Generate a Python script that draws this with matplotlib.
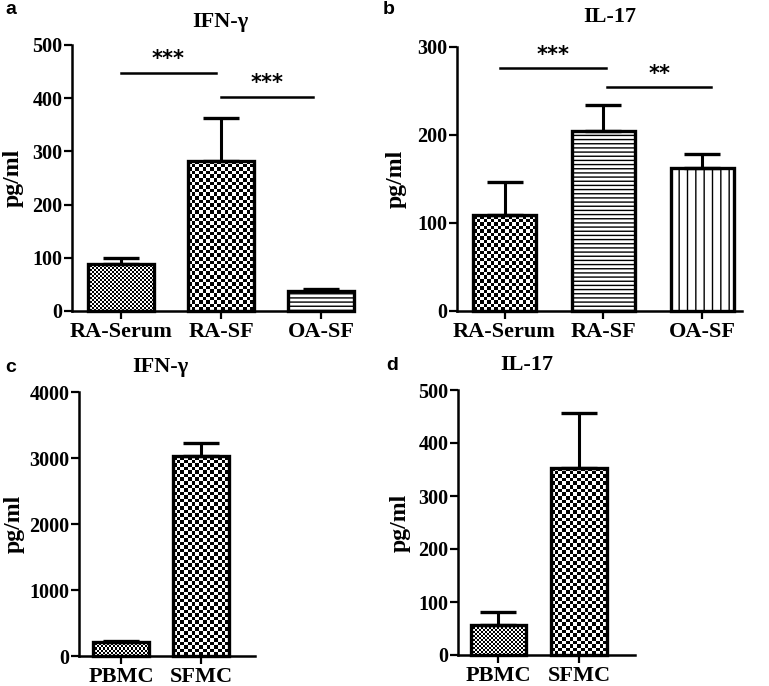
import numpy as np
import matplotlib
matplotlib.use("Agg")
import matplotlib.pyplot as plt

plt.rcParams['font.family'] = ['Liberation Serif', 'DejaVu Serif']
plt.rcParams['font.weight'] = 'bold'
plt.rcParams['hatch.linewidth'] = 1.0
plt.rcParams['hatch.color'] = 'black'

W, H = 769, 686

# panel a: IFN-gamma, b: IL-17 (serum / synovial fluid)
groups_ab = ["RA-Serum", "RA-SF", "OA-SF"]
ifn_a = [89, 282, 37]
ifn_a_err = [100, 362, 41]
il17_b = [109, 204, 163]
il17_b_err = [147, 234, 178]

# panel c, d: cell culture
groups_cd = ["PBMC", "SFMC"]
ifn_c = [215, 3030]
ifn_c_err = [230, 3230]
il17_d = [56, 353]
il17_d_err = [82, 456]

# significance bars: (from, to, y, label)
sig_a = [(0.0, 0.95, 448, "***"), (1.0, 1.92, 403, "***")]
sig_b = [(-0.05, 1.03, 276, "***"), (1.04, 2.09, 254, "**")]


def px_axes(fig, x0, x1, ytop, ybot):
    return fig.add_axes([x0 / W, (H - ybot) / H, (x1 - x0) / W, (ybot - ytop) / H])


def checker(ax, bar, cell):
    # checkerboard fill, clipped to the bar
    x0, w, h = bar.get_x(), bar.get_width(), bar.get_height()
    p0 = ax.transData.transform((x0, 0))
    p1 = ax.transData.transform((x0 + w, h))
    nx = max(1, int(round(abs(p1[0] - p0[0]) / cell)))
    ny = max(1, int(round(abs(p1[1] - p0[1]) / cell)))
    arr = (np.add.outer(np.arange(ny), np.arange(nx)) % 2).astype(float)
    im = ax.imshow(arr, cmap='gray', extent=(x0, x0 + w, 0, h), aspect='auto',
                   interpolation='nearest', zorder=2.2, vmin=0, vmax=1)
    im.set_clip_path(bar)


def panel(ax, labels, vals, errs, ymax, ystep, xlim, width, fills, sig=None):
    x = np.arange(len(vals))
    ax.set_xlim(*xlim)
    ax.set_ylim(0, ymax)
    bars = ax.bar(x, vals, width, color='white', edgecolor='black', linewidth=0,
                  zorder=2, clip_on=False)
    for b, f in zip(bars, fills):
        if f == 'fine':
            checker(ax, b, 2.0)
        elif f == 'coarse':
            checker(ax, b, 3.6)
        else:
            b.set_hatch(f)
    ax.bar(x, vals, width, fill=False, edgecolor='black', linewidth=2.4, zorder=3, clip_on=False)
    ax.errorbar(x, vals, yerr=[np.zeros(len(vals)), np.array(errs) - np.array(vals)],
                fmt='none', ecolor='black', elinewidth=2.2, capsize=13, capthick=2.4,
                zorder=3, clip_on=False)
    ax.set_xlim(*xlim)
    ax.set_ylim(0, ymax)
    ax.set_xticks(x)
    ax.set_xticklabels(labels, fontsize=16, fontweight='bold')
    ax.set_yticks(np.arange(0, ymax + 1, ystep))
    ax.tick_params(axis='y', labelsize=14.5, width=1.6, length=6, pad=1)
    ax.tick_params(axis='x', width=1.6, length=6, pad=2)
    for s in ['top', 'right']:
        ax.spines[s].set_visible(False)
    for s in ['left', 'bottom']:
        ax.spines[s].set_linewidth(1.8)
    ax.set_ylabel("pg/ml", fontsize=17, fontweight='bold')
    if sig:
        for a, b, y, lab in sig:
            ax.plot([a, b], [y, y], color='black', lw=1.8, clip_on=False)
            ax.text((a + b) / 2, y + ymax * 0.012, lab, ha='center', va='bottom',
                    fontsize=15, fontfamily='DejaVu Sans')


fig = plt.figure(figsize=(W / 100, H / 100), dpi=100)

ax_a = px_axes(fig, 72, 343, 45, 311)
panel(ax_a, groups_ab, ifn_a, ifn_a_err, 500, 100, (-0.49, 2.22), 0.66,
      ['fine', 'coarse', '----'], sig_a)
ax_a.yaxis.set_label_coords(-0.18, 0.5)

ax_b = px_axes(fig, 457, 742, 47, 311)
panel(ax_b, groups_ab, il17_b, il17_b_err, 300, 100, (-0.48, 2.40), 0.64,
      ['coarse', '----', '||'], sig_b)
ax_b.yaxis.set_label_coords(-0.175, 0.5)

ax_c = px_axes(fig, 79, 255, 392, 656)
panel(ax_c, groups_cd, ifn_c, ifn_c_err, 4000, 1000, (-0.525, 1.675), 0.69,
      ['fine', 'coarse'])
ax_c.yaxis.set_label_coords(-0.31, 0.5)

ax_d = px_axes(fig, 458, 635, 390, 655)
panel(ax_d, groups_cd, il17_d, il17_d_err, 500, 100, (-0.5, 1.69), 0.69,
      ['fine', 'coarse'])
ax_d.yaxis.set_label_coords(-0.265, 0.5)

titles = [("IFN-γ", 220, 22), ("IL-17", 610, 17), ("IFN-γ", 160, 367), ("IL-17", 527, 365)]
for t, tx, ty in titles:
    fig.text(tx / W, 1 - ty / H, t, ha='center', va='center', fontsize=16, fontweight='bold')

letters = [("a", 5, 10), ("b", 383, 10), ("c", 5, 367), ("d", 386, 365)]
for t, tx, ty in letters:
    fig.text(tx / W, 1 - ty / H, t, ha='left', va='center', fontsize=14, fontweight='bold',
             fontfamily='Liberation Sans')

fig.savefig("out.png", dpi=100)
